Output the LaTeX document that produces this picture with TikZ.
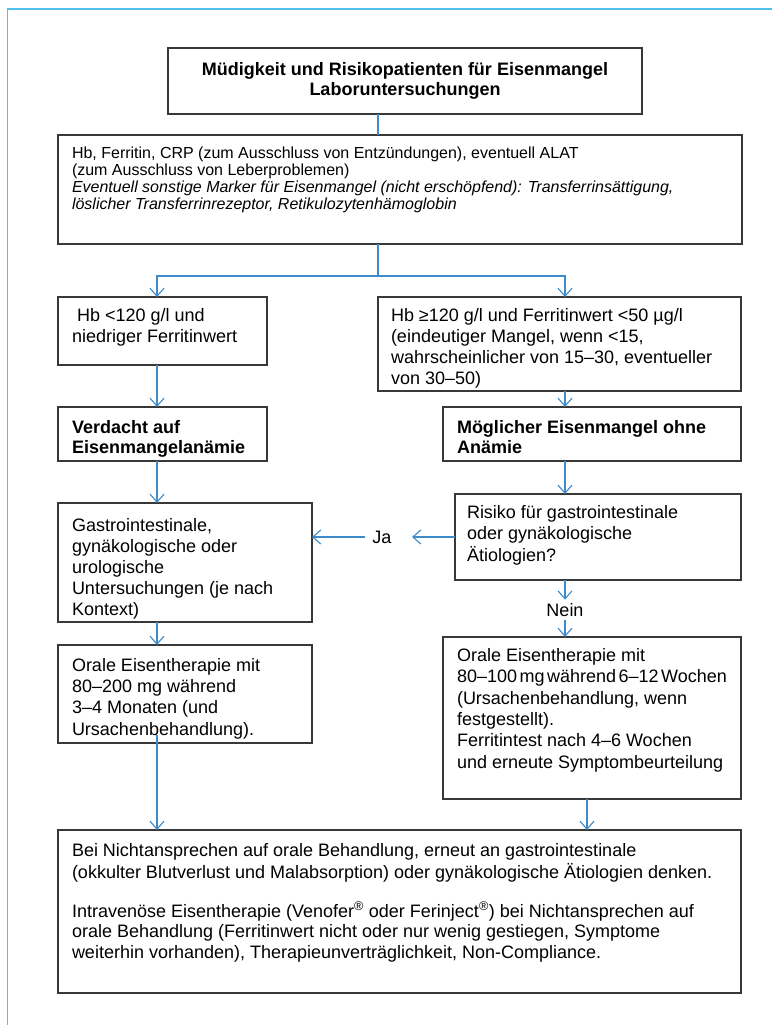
\documentclass[tikz,border=0pt]{standalone}
\usepackage{fontspec}
\setmainfont{Liberation Sans}
\usetikzlibrary{arrows.meta,shadows}
\definecolor{frameblue}{HTML}{4FC1EE}
\definecolor{linkblue}{HTML}{3D8BCB}
\definecolor{boxline}{HTML}{383838}
% #1 height, #2 text width, #3 top space, #4 font size, #5 baselineskip, #6 text
\newcommand{\bb}[6]{\parbox[t][#1][t]{#2}{\fontsize{#4}{#5}\selectfont\raggedright\vspace*{#3}\strut #6}}
\begin{document}
\begin{tikzpicture}[x=1pt,y=-1pt,
  box/.style={draw=boxline, line width=1.3pt, fill=white, inner ysep=0pt, outer sep=0pt,
    anchor=north west, drop shadow={opacity=0.18, shadow xshift=1.2pt, shadow yshift=-1.2pt}},
  arr/.style={draw=linkblue, line width=1.1pt, -{Straight Barb[length=8pt,width=14pt]}},
  link/.style={draw=linkblue, line width=1.1pt},
  lbl/.style={font=\fontsize{18}{21}\selectfont, inner xsep=0pt}]
\useasboundingbox (0,0) rectangle (772,1025);
\fill[white] (0,0) rectangle (772,1025);
\draw[frameblue, line width=1.8pt] (7.5,1025) -- (7.5,9.3) -- (772,9.3);

% boxes
\node[box, minimum width=474pt, minimum height=66pt, align=center,
  font=\fontsize{18}{19.5}\selectfont\bfseries] (b1) at (168,48)
  {Müdigkeit und Risikopatienten für Eisenmangel\\Laboruntersuchungen};
\node[box, inner xsep=14pt] (b2) at (58,135) {\bb{109pt}{656pt}{11.7pt}{16}{17}{%
  Hb, Ferritin, CRP (zum Ausschluss von Entzündungen), eventuell ALAT\\
  (zum Ausschluss von Leberproblemen)\\
  \itshape Eventuell sonstige Marker für Eisenmangel (nicht erschöpfend): Transferrinsättigung,\\
  löslicher Transferrinrezeptor, Retikulozytenhämoglobin}};
\node[box, inner xsep=14pt] (b3) at (58,297) {\bb{68pt}{181pt}{9.6pt}{18}{21}{%
  \hspace*{0.28em}Hb <120 g/l und\\niedriger Ferritinwert}};
\node[box, inner xsep=13pt] (b4) at (378,297) {\bb{94pt}{337pt}{9.6pt}{18}{21}{%
  Hb ≥120 g/l und Ferritinwert <50 µg/l\\
  (eindeutiger Mangel, wenn <15,\\
  wahrscheinlicher von 15–30, eventueller\\
  von 30–50)}};
\node[box, inner xsep=14pt] (b5) at (58,407) {\bb{54pt}{181pt}{12.3pt}{18}{20}{%
  \bfseries Verdacht auf\\Eisenmangelanämie}};
\node[box, inner xsep=14pt] (b6) at (443,407) {\bb{54pt}{270pt}{12.3pt}{18}{20}{%
  \bfseries Möglicher Eisenmangel ohne\\Anämie}};
\node[box, inner xsep=12pt] (b8) at (455,494) {\bb{86pt}{262pt}{9.25pt}{18}{21.5}{%
  Risiko für gastrointestinale\\oder gynäkologische\\Ätiologien?}};
\node[box, inner xsep=14pt] (b7) at (58,503) {\bb{119pt}{226pt}{13.6pt}{18}{21}{%
  Gastrointestinale,\\gynäkologische oder\\urologische\\Untersuchungen (je nach\\Kontext)}};
\node[box, inner xsep=14pt] (b10) at (58,645) {\bb{98pt}{226pt}{11.4pt}{18}{21.3}{%
  Orale Eisentherapie mit\\80–200 mg während\\3–4 Monaten (und\\Ursachenbehandlung).}};
\node[box, inner xsep=14pt] (b9) at (443,637) {\bb{162pt}{270pt}{9.3pt}{18}{21.4}{%
  Orale Eisentherapie mit\\
  {\spaceskip=0.14em\relax 80–100 mg während 6–12 Wochen}\\
  (Ursachenbehandlung, wenn\\
  festgestellt).\\
  Ferritintest nach 4–6 Wochen\\
  und erneute Symptombeurteilung}};
\node[box, inner xsep=14pt] (b11) at (58,830) {\bb{163pt}{655pt}{11.95pt}{18}{20.5}{%
  Bei Nichtansprechen auf orale Behandlung, erneut an gastrointestinale\\
  (okkulter Blutverlust und Malabsorption) oder gynäkologische Ätiologien denken.\par
  \vspace{18pt}%
  Intravenöse Eisentherapie (Venofer\textsuperscript{®} oder Ferinject\textsuperscript{®}) bei Nichtansprechen auf\\
  orale Behandlung (Ferritinwert nicht oder nur wenig gestiegen, Symptome\\
  weiterhin vorhanden), Therapieunverträglichkeit, Non-Compliance.}};

% labels
\node[lbl] (ja) at (382,537) {Ja};
\node[lbl, inner ysep=3.5pt] (nein) at (565,610) {Nein};

% helper coordinates
\coordinate (split) at (378,276);
\coordinate (colL) at (157,276);
\coordinate (colR) at (565,276);
\coordinate (jaR) at (412,537);
\coordinate (jaL) at (365,537);
\coordinate (b10start) at (157,735);
\coordinate (colRR) at (587,800);

% connectors
\draw[link] (b1.south -| split) -- (b2.north -| split);
\draw[link] (b2.south -| split) -- (split);
\draw[arr] (split) -| (b3.north -| colL);
\draw[arr] (split) -| (b4.north -| colR);
\draw[arr] (b3.south -| colL) -- (b5.north -| colL);
\draw[arr] (b4.south -| colR) -- (b6.north -| colR);
\draw[arr] (b5.south -| colL) -- (b7.north -| colL);
\draw[arr] (b6.south -| colR) -- (b8.north -| colR);
\draw[arr] (b8.west) -- (jaR);
\draw[arr] (jaL) -- (jaL -| b7.east);
\draw[arr] (b8.south -| nein) -- (nein.north);
\draw[arr] (nein.south) -- (b9.north -| nein);
\draw[arr] (b7.south -| colL) -- (b10.north -| colL);
\draw[arr] (b10start) -- (b11.north -| b10start);
\draw[arr] (b9.south -| colRR) -- (b11.north -| colRR);
\end{tikzpicture}
\end{document}
